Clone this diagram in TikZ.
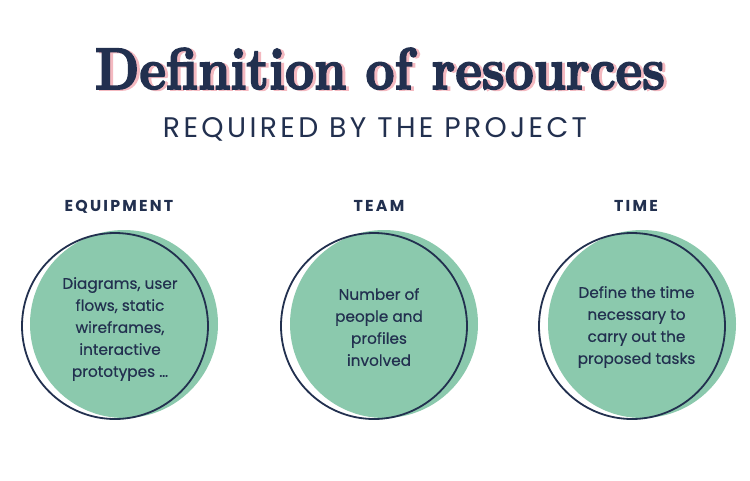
\documentclass[tikz,border=0pt]{standalone}
\usepackage{fontspec}
\usepackage{graphicx}
\setmainfont{Poppins}
\newfontfamily\titlefont[FakeBold=3]{Latin Modern Roman}
\newfontfamily\subfont[LetterSpace=12]{Poppins}
\newfontfamily\labfont[LetterSpace=14]{Poppins}
\definecolor{navy}{HTML}{22304F}
\definecolor{mint}{HTML}{8BC9AD}
\definecolor{blush}{HTML}{F4B9C0}
\newcommand{\titletext}{\resizebox{570pt}{41pt}{\titlefont\bfseries Definition of resources}}
\tikzset{
  blob/.style={circle, fill=mint, draw=none, minimum size=188pt, inner sep=0},
  ring/.style={circle, draw=navy, line width=1.8pt, minimum size=186pt, inner sep=0},
  head/.style={anchor=base, text=navy, inner sep=0, font=\labfont\bfseries\fontsize{15.8}{18}\selectfont},
  body/.style={text=navy, inner sep=0, align=center, font=\addfontfeature{FakeBold=0.4}\fontsize{15.3}{22}\selectfont}
}
\begin{document}
\begin{tikzpicture}[x=1pt,y=-1pt]
\useasboundingbox (0,0) rectangle (750,480);
\fill[white] (0,0) rectangle (750,480);
% title with offset pink shadow in one text
\node[anchor=base, text=navy, inner sep=0] (title) at (380,89)
  {\rlap{\hspace{3pt}\raisebox{-1pt}{\color{blush}\titletext}}\titletext};
\node[anchor=base, text=navy, inner sep=0] (subtitle) at (375,137)
  {\resizebox{424pt}{20pt}{\subfont REQUIRED BY THE PROJECT}};
% equipment
\node[head] (lab1) at (119,211) {EQUIPMENT};
\node[blob] (blob1) at (124,324) {};
\node[ring] (ring1) at (115,326) {};
\node[body] (txt1) at (120,329) {Diagrams, user\\flows, static\\wireframes,\\interactive\\prototypes \dots};
% team
\node[head] (lab2) at (379,211) {TEAM};
\node[blob] (blob2) at (384,324) {};
\node[ring] (ring2) at (374,326) {};
\node[body] (txt2) at (379,327) {Number of\\people and\\profiles\\involved};
% time
\node[head] (lab3) at (636,211) {TIME};
\node[blob] (blob3) at (642,324) {};
\node[ring] (ring3) at (632,326) {};
\node[body] (txt3) at (636.5,327) {Define the time\\necessary to\\carry out the\\proposed tasks};
\end{tikzpicture}
\end{document}
